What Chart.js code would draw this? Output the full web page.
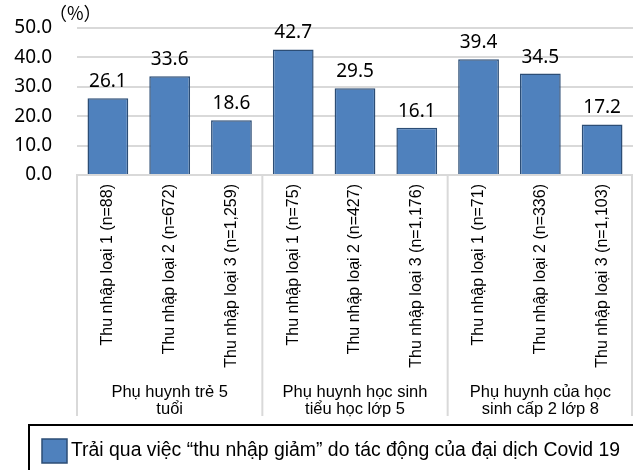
<!DOCTYPE html>
<html>
<head>
<meta charset="utf-8">
<script src="https://cdn.jsdelivr.net/npm/chart.js@4/dist/chart.umd.min.js"></script>
<style>
  body { margin: 0; background: #fff; }
  #wrap { width: 633px; height: 470px; position: relative; }
</style>
</head>
<body>
<div id="wrap"><canvas id="chart" width="633" height="470"></canvas></div>
<script>
// categories and values
var categories = [
    'Thu nhập loại 1 (n=88)', 'Thu nhập loại 2 (n=672)', 'Thu nhập loại 3 (n=1,259)',
    'Thu nhập loại 1 (n=75)', 'Thu nhập loại 2 (n=427)', 'Thu nhập loại 3 (n=1,176)',
    'Thu nhập loại 1 (n=71)', 'Thu nhập loại 2 (n=336)', 'Thu nhập loại 3 (n=1,103)'
];
var values = [26.1, 33.6, 18.6, 42.7, 29.5, 16.1, 39.4, 34.5, 17.2];
var groupLabels = [
    ['Phụ huynh trẻ 5', 'tuổi'],
    ['Phụ huynh học sinh', 'tiểu học lớp 5'],
    ['Phụ huynh của học', 'sinh cấp 2 lớp 8']
];
var groupSize = 3;
var seriesLabel = 'Trải qua việc “thu nhập giảm” do tác động của đại dịch Covid 19';
var unitLabel = '（%）';

var numFont = '"Noto Sans", sans-serif';
var textFont = '"Liberation Sans", Arial, sans-serif';
var gridColor = '#d9d9d9';

// Extra drawing: value labels, group labels, separators, unit, legend box
var extras = {
    id: 'extras',
    afterDraw: function(chart) {
        var ctx = chart.ctx;
        var area = chart.chartArea;
        var x = chart.scales.x;
        var meta = chart.getDatasetMeta(0);
        ctx.save();

        // value labels above bars
        ctx.fillStyle = '#000';
        ctx.font = '19px ' + numFont;
        ctx.textAlign = 'center';
        ctx.textBaseline = 'alphabetic';
        meta.data.forEach(function(bar, i) {
            ctx.fillText(values[i].toFixed(1), bar.x, bar.y - 11);
        });

        // group separators and labels
        var bottom = 416;
        ctx.strokeStyle = gridColor;
        ctx.lineWidth = 2;
        var bounds = [area.left];
        for (var g = 1; g < groupLabels.length; g++) {
            var i = g * groupSize;
            bounds.push((x.getPixelForValue(i - 1) + x.getPixelForValue(i)) / 2);
        }
        bounds.push(area.right - 1);
        bounds.forEach(function(bx) {
            ctx.beginPath();
            ctx.moveTo(bx, area.bottom);
            ctx.lineTo(bx, bottom);
            ctx.stroke();
        });
        ctx.font = '16.5px ' + textFont;
        ctx.textBaseline = 'middle';
        groupLabels.forEach(function(lines, g) {
            var cx = x.getPixelForValue(g * groupSize + (groupSize - 1) / 2);
            lines.forEach(function(line, k) {
                ctx.fillText(line, cx, 392 + k * 17);
            });
        });

        // unit
        ctx.font = '18px "Noto Sans CJK JP", sans-serif';
        ctx.textAlign = 'left';
        ctx.fillText(unitLabel, 49, 13);

        // legend box
        ctx.strokeStyle = '#000';
        ctx.lineWidth = 2;
        ctx.strokeRect(29, 425, 620, 60);
        var ds = chart.data.datasets[0];
        ctx.fillStyle = ds.backgroundColor;
        ctx.fillRect(42, 439, 25, 24);
        ctx.strokeStyle = ds.borderColor;
        ctx.lineWidth = 1.5;
        ctx.strokeRect(42, 439, 25, 24);
        ctx.fillStyle = '#000';
        ctx.font = '19.4px ' + textFont;
        ctx.fillText(ds.label, 71, 451);

        ctx.restore();
    }
};

new Chart(document.getElementById('chart').getContext('2d'), {
    type: 'bar',
    data: {
        labels: categories,
        datasets: [{
            label: seriesLabel,
            data: values,
            backgroundColor: '#4f81bd',
            borderColor: '#2c4d75',
            borderWidth: 1.5,
            categoryPercentage: 1,
            barPercentage: 0.66
        }]
    },
    options: {
        responsive: false,
        animation: false,
        layout: { padding: { top: 28, right: 0, bottom: 55, left: 0 } },
        scales: {
            x: {
                grid: { display: false, drawTicks: false },
                border: { display: true, color: gridColor, width: 2 },
                ticks: {
                    autoSkip: false,
                    minRotation: 90,
                    maxRotation: 90,
                    padding: 9,
                    color: '#000',
                    font: { family: textFont, size: 16 }
                },
                afterFit: function(scale) { scale.height = 240; }
            },
            y: {
                min: 0,
                max: 50,
                // invisible tick marks push the labels away from the plot
                grid: { color: gridColor, lineWidth: 2, drawTicks: true, tickLength: 25, tickColor: 'rgba(0,0,0,0)' },
                border: { display: false },
                ticks: {
                    stepSize: 10,
                    padding: 0,
                    color: '#000',
                    font: { family: numFont, size: 19 },
                    callback: function(v) { return v.toFixed(1); }
                },
                afterFit: function(scale) { scale.width = 77; }
            }
        },
        plugins: {
            legend: { display: false },
            tooltip: { enabled: false }
        }
    },
    plugins: [extras]
});
</script>
</body>
</html>
